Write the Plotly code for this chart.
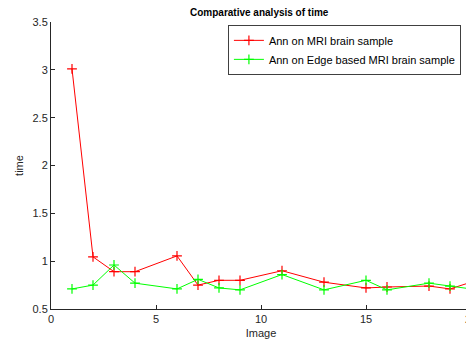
import plotly.graph_objects as go

x_vals = [1, 2, 3, 4, 6, 7, 8, 9, 11, 13, 15, 16, 18, 19, 20]
ann_mri = [3.01, 1.045, 0.89, 0.89, 1.055, 0.75, 0.80, 0.80, 0.90, 0.78, 0.72, 0.73, 0.74, 0.71, 0.78]
ann_edge = [0.71, 0.75, 0.96, 0.77, 0.71, 0.81, 0.72, 0.70, 0.86, 0.70, 0.80, 0.70, 0.77, 0.74, 0.71]

names = ["Ann on MRI brain sample", "Ann on Edge based MRI brain sample"]
colors = ["#ff0000", "#00ff00"]

fig = go.Figure()
for name, ys, c in zip(names, [ann_mri, ann_edge], colors):
    fig.add_trace(go.Scatter(
        x=x_vals, y=ys, name=name, mode="lines+markers",
        line=dict(color=c, width=1),
        marker=dict(symbol="cross-thin", size=7, line=dict(color=c, width=1.2), color=c),
    ))

font_fam = "Liberation Sans, Arial, sans-serif"
fig.update_layout(
    width=474, height=343,
    margin=dict(l=43, r=11, t=14, b=42),
    paper_bgcolor="white", plot_bgcolor="white",
    font=dict(family=font_fam, size=11, color="#262626"),
    title=dict(text="<b>Comparative analysis of time</b>", x=0.53, xanchor="center",
               y=0.988, yanchor="middle", font=dict(size=10, color="black")),
    xaxis=dict(range=[0, 20], tickvals=[0, 5, 10, 15, 20], ticks="inside", ticklen=4,
               tickcolor="#262626", showline=True, linecolor="#262626", linewidth=1,
               showgrid=False, zeroline=False, automargin=False,
               title=dict(text="Image", standoff=5, font=dict(size=11))),
    yaxis=dict(range=[0.5, 3.5], tickvals=[0.5, 1, 1.5, 2, 2.5, 3, 3.5], ticks="inside", ticklen=4,
               tickcolor="#262626", showline=True, linecolor="#262626", linewidth=1,
               showgrid=False, zeroline=False, automargin=False,
               title=dict(text="time", standoff=6, font=dict(size=11))),
    legend=dict(x=0.976, y=0.99, xanchor="right", yanchor="top",
                bordercolor="#404040", borderwidth=1, bgcolor="white",
                font=dict(size=11, color="black"), tracegroupgap=0,
                itemwidth=30),
)

fig.write_html("out.html")
